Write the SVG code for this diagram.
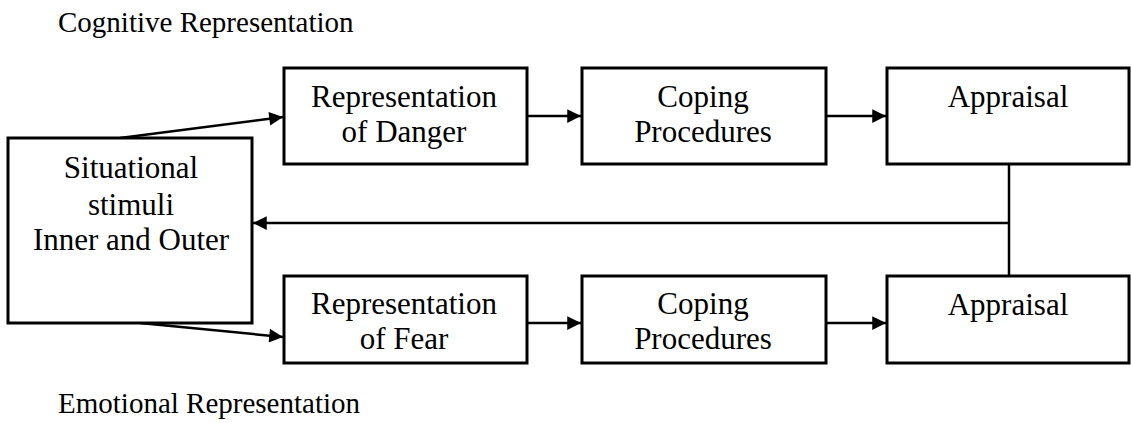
<svg xmlns="http://www.w3.org/2000/svg" width="1131" height="423" viewBox="0 0 1131 423">
<style>
  .box{fill:#fff;stroke:#000;stroke-width:3}
  .t{font-family:"Liberation Serif","Times New Roman",serif;font-size:31px;fill:#000;text-anchor:middle}
  .lbl{font-family:"Liberation Serif","Times New Roman",serif;font-size:29px;fill:#000}
  .c{stroke:#000;stroke-width:2.5;fill:none}
</style>
<defs>
  <marker id="ah" viewBox="0 0 10 10" refX="10" refY="5" markerWidth="6" markerHeight="5.5" markerUnits="strokeWidth" orient="auto">
    <path d="M0,0 L10,5 L0,10 z" fill="#000"/>
  </marker>
</defs>
<rect width="1131" height="423" fill="#fff"/>
<text class="lbl" x="58" y="32">Cognitive Representation</text>
<text class="lbl" x="58" y="413">Emotional Representation</text>
<g id="connectors">
  <path class="c" d="M120,138 L283,117" marker-end="url(#ah)"/>
  <path class="c" d="M140,323 L283,337" marker-end="url(#ah)"/>
  <path class="c" d="M527,116 L581,116" marker-end="url(#ah)"/>
  <path class="c" d="M825,116 L886,116" marker-end="url(#ah)"/>
  <path class="c" d="M528,323 L581,323" marker-end="url(#ah)"/>
  <path class="c" d="M826,323 L886,323" marker-end="url(#ah)"/>
  <path class="c" d="M1009,164 L1009,276"/>
  <path class="c" d="M1009,223 L253,223" marker-end="url(#ah)"/>
</g>
<g id="situational">
  <rect class="box" x="8" y="138" width="244" height="185"/>
  <text class="t" x="131" y="178">Situational</text>
  <text class="t" x="131" y="215">stimuli</text>
  <text class="t" x="131" y="250">Inner and Outer</text>
</g>
<g id="rep-danger">
  <rect class="box" x="284" y="68" width="243" height="96"/>
  <text class="t" x="404" y="107">Representation</text>
  <text class="t" x="404" y="142">of Danger</text>
</g>
<g id="coping-top">
  <rect class="box" x="582" y="68" width="244" height="96"/>
  <text class="t" x="703" y="107">Coping</text>
  <text class="t" x="703" y="142">Procedures</text>
</g>
<g id="appraisal-top">
  <rect class="box" x="887" y="68" width="242" height="96"/>
  <text class="t" x="1008" y="107">Appraisal</text>
</g>
<g id="rep-fear">
  <rect class="box" x="284" y="276" width="243" height="87"/>
  <text class="t" x="404" y="314">Representation</text>
  <text class="t" x="404" y="349">of Fear</text>
</g>
<g id="coping-bottom">
  <rect class="box" x="582" y="276" width="244" height="87"/>
  <text class="t" x="703" y="314">Coping</text>
  <text class="t" x="703" y="349">Procedures</text>
</g>
<g id="appraisal-bottom">
  <rect class="box" x="887" y="276" width="242" height="87"/>
  <text class="t" x="1008" y="315">Appraisal</text>
</g>
</svg>
